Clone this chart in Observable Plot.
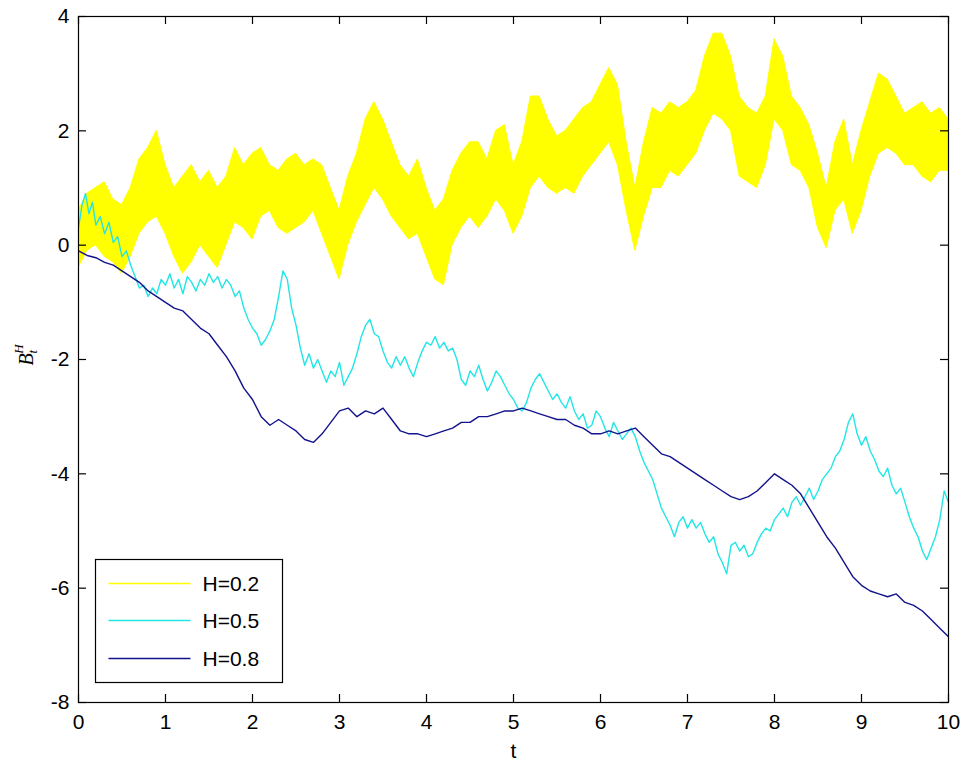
<!DOCTYPE html>
<html><head><meta charset="utf-8">
<script src="https://cdn.jsdelivr.net/npm/d3@7"></script>
<script src="https://cdn.jsdelivr.net/npm/@observablehq/plot@0.6"></script>
<style>body{margin:0;background:#fff}#chart{width:966px;height:769px}</style>
</head><body><div id="chart"></div>
<script>
const xTicks = [0,1,2,3,4,5,6,7,8,9,10];
const yTicks = [-8,-6,-4,-2,0,2,4];
const seriesNames = ["H=0.2","H=0.5","H=0.8"];
const seriesColors = ["#ffff00","#22e6e6","#12128c"];
const xLabel = "t";

// H=0.2 : dense band, upper and lower envelope read every 0.1
const yellowT = [0,0.1,0.2,0.3,0.4,0.5,0.6,0.7,0.8,0.9,1,1.1,1.2,1.3,1.4,1.5,1.6,1.7,1.8,1.9,2,2.1,2.2,2.3,2.4,2.5,2.6,2.7,2.8,2.9,3,3.1,3.2,3.3,3.4,3.5,3.6,3.7,3.8,3.9,4,4.1,4.2,4.3,4.4,4.5,4.6,4.7,4.8,4.9,5,5.1,5.2,5.3,5.4,5.5,5.6,5.7,5.8,5.9,6,6.1,6.2,6.3,6.4,6.5,6.6,6.7,6.8,6.9,7,7.1,7.2,7.3,7.4,7.5,7.6,7.7,7.8,7.9,8,8.1,8.2,8.3,8.4,8.5,8.6,8.7,8.8,8.9,9,9.1,9.2,9.3,9.4,9.5,9.6,9.7,9.8,9.9,10];
const yellowHi = [0.6,0.9,1.0,1.1,0.8,0.7,1.0,1.5,1.7,2.0,1.4,1.0,1.2,1.4,1.1,1.3,1.0,1.2,1.7,1.4,1.6,1.7,1.4,1.3,1.5,1.6,1.4,1.5,1.4,1.0,0.6,1.2,1.6,2.2,2.5,2.2,1.8,1.4,1.2,1.5,1.0,0.6,0.8,1.3,1.6,1.8,1.8,1.5,2.0,2.1,1.4,1.8,2.6,2.6,2.2,1.9,2.0,2.2,2.4,2.5,2.8,3.1,2.8,1.8,1.0,1.8,2.4,2.3,2.5,2.4,2.5,2.7,3.3,3.7,3.7,3.3,2.6,2.4,2.3,2.6,3.6,3.3,2.6,2.4,2.1,1.6,1.0,1.8,2.2,1.4,2.0,2.5,3.0,2.9,2.6,2.3,2.4,2.5,2.3,2.4,2.2];
const yellowLo = [-0.4,-0.1,0.0,-0.2,-0.3,-0.5,-0.2,0.2,0.4,0.5,0.2,-0.2,-0.5,-0.3,0.0,-0.2,-0.4,0.0,0.4,0.3,0.1,0.5,0.6,0.3,0.2,0.3,0.4,0.6,0.2,-0.2,-0.6,0.0,0.4,0.7,1.0,0.8,0.5,0.3,0.1,0.2,-0.2,-0.6,-0.7,0.0,0.3,0.5,0.3,0.5,0.8,0.6,0.2,0.5,1.0,1.2,1.0,0.9,1.0,0.9,1.2,1.4,1.6,1.8,1.4,0.6,-0.1,0.5,1.0,1.0,1.3,1.2,1.4,1.6,2.0,2.3,2.2,2.0,1.2,1.1,1.0,1.4,2.2,2.0,1.4,1.3,1.0,0.3,-0.05,0.6,0.8,0.2,0.6,1.2,1.6,1.7,1.6,1.4,1.4,1.2,1.1,1.3,1.3];

// H=0.5
const cyanT = [0,0.04,0.08,0.12,0.16,0.2,0.25,0.3,0.35,0.4,0.45,0.5,0.55,0.6,0.65,0.7,0.75,0.8,0.85,0.9,0.95,1,1.05,1.1,1.15,1.2,1.25,1.3,1.35,1.4,1.45,1.5,1.55,1.6,1.65,1.7,1.75,1.8,1.85,1.9,1.95,2,2.05,2.1,2.15,2.2,2.25,2.3,2.35,2.4,2.45,2.5,2.55,2.6,2.65,2.7,2.75,2.8,2.85,2.9,2.95,3,3.05,3.1,3.15,3.2,3.25,3.3,3.35,3.4,3.45,3.5,3.55,3.6,3.65,3.7,3.75,3.8,3.85,3.9,3.95,4,4.05,4.1,4.15,4.2,4.25,4.3,4.35,4.4,4.45,4.5,4.55,4.6,4.65,4.7,4.75,4.8,4.85,4.9,4.95,5,5.05,5.1,5.15,5.2,5.25,5.3,5.35,5.4,5.45,5.5,5.55,5.6,5.65,5.7,5.75,5.8,5.85,5.9,5.95,6,6.05,6.1,6.15,6.2,6.25,6.3,6.35,6.4,6.45,6.5,6.55,6.6,6.65,6.7,6.75,6.8,6.85,6.9,6.95,7,7.05,7.1,7.15,7.2,7.25,7.3,7.35,7.4,7.45,7.5,7.55,7.6,7.65,7.7,7.75,7.8,7.85,7.9,7.95,8,8.05,8.1,8.15,8.2,8.25,8.3,8.35,8.4,8.45,8.5,8.55,8.6,8.65,8.7,8.75,8.8,8.85,8.9,8.95,9,9.05,9.1,9.15,9.2,9.25,9.3,9.35,9.4,9.45,9.5,9.55,9.6,9.65,9.7,9.75,9.8,9.85,9.9,9.95,10];
const cyanV = [0.3,0.7,0.9,0.55,0.75,0.35,0.5,0.2,0.4,0.05,0.15,-0.2,-0.1,-0.35,-0.55,-0.75,-0.7,-0.9,-0.75,-0.85,-0.6,-0.7,-0.5,-0.75,-0.6,-0.85,-0.55,-0.65,-0.8,-0.6,-0.7,-0.5,-0.65,-0.55,-0.75,-0.6,-0.7,-0.9,-0.8,-1.1,-1.3,-1.45,-1.55,-1.75,-1.65,-1.5,-1.3,-0.9,-0.45,-0.6,-1.1,-1.4,-1.8,-2.1,-1.9,-2.15,-2.0,-2.2,-2.4,-2.2,-2.3,-2.05,-2.45,-2.3,-2.15,-1.9,-1.6,-1.4,-1.3,-1.55,-1.6,-1.85,-2.05,-2.15,-1.95,-2.1,-1.95,-2.15,-2.3,-2.05,-1.85,-1.7,-1.75,-1.6,-1.8,-1.7,-1.85,-1.8,-2.0,-2.35,-2.45,-2.2,-2.3,-2.1,-2.35,-2.55,-2.4,-2.2,-2.3,-2.45,-2.6,-2.7,-2.85,-2.9,-2.75,-2.5,-2.35,-2.25,-2.4,-2.55,-2.7,-2.6,-2.75,-2.85,-2.65,-2.9,-3.05,-2.95,-3.2,-3.15,-2.9,-3.0,-3.2,-3.35,-3.1,-3.25,-3.4,-3.3,-3.2,-3.35,-3.6,-3.8,-3.95,-4.1,-4.35,-4.6,-4.75,-4.9,-5.1,-4.85,-4.75,-4.95,-4.8,-4.95,-4.85,-5.05,-5.2,-5.1,-5.4,-5.55,-5.75,-5.25,-5.2,-5.35,-5.25,-5.45,-5.4,-5.2,-5.05,-4.95,-5.0,-4.8,-4.7,-4.6,-4.75,-4.5,-4.4,-4.55,-4.4,-4.25,-4.45,-4.3,-4.1,-4.0,-3.9,-3.7,-3.6,-3.4,-3.1,-2.95,-3.3,-3.5,-3.35,-3.6,-3.75,-3.95,-4.05,-3.9,-4.2,-4.35,-4.25,-4.5,-4.75,-4.95,-5.1,-5.35,-5.5,-5.3,-5.1,-4.8,-4.3,-4.5];

// H=0.8
const navyT = [0,0.1,0.2,0.3,0.4,0.5,0.6,0.7,0.8,0.9,1,1.1,1.2,1.3,1.4,1.5,1.6,1.7,1.8,1.9,2,2.1,2.2,2.3,2.4,2.5,2.6,2.7,2.8,2.9,3,3.1,3.2,3.3,3.4,3.5,3.6,3.7,3.8,3.9,4,4.1,4.2,4.3,4.4,4.5,4.6,4.7,4.8,4.9,5,5.1,5.2,5.3,5.4,5.5,5.6,5.7,5.8,5.9,6,6.1,6.2,6.3,6.4,6.5,6.6,6.7,6.8,6.9,7,7.1,7.2,7.3,7.4,7.5,7.6,7.7,7.8,7.9,8,8.1,8.2,8.3,8.4,8.5,8.6,8.7,8.8,8.9,9,9.1,9.2,9.3,9.4,9.5,9.6,9.7,9.8,9.9,10];
const navyV = [-0.1,-0.18,-0.22,-0.3,-0.35,-0.45,-0.55,-0.65,-0.8,-0.9,-1.0,-1.1,-1.15,-1.3,-1.45,-1.55,-1.75,-1.95,-2.2,-2.5,-2.7,-3.0,-3.15,-3.05,-3.15,-3.25,-3.4,-3.45,-3.3,-3.1,-2.9,-2.85,-3.0,-2.9,-2.95,-2.85,-3.05,-3.25,-3.3,-3.3,-3.35,-3.3,-3.25,-3.2,-3.1,-3.1,-3.0,-3.0,-2.95,-2.9,-2.9,-2.85,-2.9,-2.95,-3.0,-3.05,-3.05,-3.15,-3.2,-3.3,-3.3,-3.25,-3.3,-3.25,-3.2,-3.35,-3.5,-3.65,-3.7,-3.8,-3.9,-4.0,-4.1,-4.2,-4.3,-4.4,-4.45,-4.4,-4.3,-4.15,-4.0,-4.1,-4.2,-4.35,-4.6,-4.85,-5.1,-5.3,-5.55,-5.8,-5.95,-6.05,-6.1,-6.15,-6.1,-6.25,-6.3,-6.4,-6.55,-6.7,-6.85];

const yellow = yellowT.map((t,i) => ({t, hi: yellowHi[i], lo: yellowLo[i]}));
const cyan = cyanT.map((t,i) => ({t, v: cyanV[i]}));
const navy = navyT.map((t,i) => ({t, v: navyV[i]}));

const W = 966, H = 769, mL = 78, mR = 18, mT = 16, mB = 67;
const pw = W - mL - mR, ph = H - mT - mB, tk = 8;

const plot = Plot.plot({
  width: W, height: H,
  marginLeft: mL, marginRight: mR, marginTop: mT, marginBottom: mB,
  style: {fontFamily: "'Liberation Sans', Arial, sans-serif", fontSize: "21px", background: "white", color: "black"},
  x: {domain: [0, 10]},
  y: {domain: [-8, 4]},
  marks: [
    Plot.areaY(yellow, {x: "t", y1: "lo", y2: "hi", fill: seriesColors[0], stroke: seriesColors[0], strokeWidth: 1, clip: true}),
    Plot.line(cyan, {x: "t", y: "v", stroke: seriesColors[1], strokeWidth: 1.4, clip: true}),
    Plot.line(navy, {x: "t", y: "v", stroke: seriesColors[2], strokeWidth: 1.4, clip: true}),
    Plot.frame({stroke: "black", strokeWidth: 1.2}),
    Plot.ruleX(xTicks, {x: d => d, insetTop: ph - tk, stroke: "black", strokeWidth: 1.2}),
    Plot.ruleX(xTicks, {x: d => d, insetBottom: ph - tk, stroke: "black", strokeWidth: 1.2}),
    Plot.ruleY(yTicks, {y: d => d, insetRight: pw - tk, stroke: "black", strokeWidth: 1.2}),
    Plot.ruleY(yTicks, {y: d => d, insetLeft: pw - tk, stroke: "black", strokeWidth: 1.2}),
    Plot.axisX({ticks: xTicks, tickSize: 0, tickPadding: 12, fontSize: 21, label: null, tickFormat: d => String(d)}),
    Plot.axisY({ticks: yTicks, tickSize: 0, tickPadding: 9, fontSize: 21, label: null, tickFormat: d => String(d)}),
    Plot.text([xLabel], {text: d => d, frameAnchor: "bottom", dy: 55, fontSize: 21})
  ]
});

const svg = d3.select(plot);
// y label B_t^H
const yl = svg.append("text")
  .attr("transform", `translate(33,355) rotate(-90)`)
  .attr("text-anchor", "middle")
  .attr("font-family", "'Liberation Serif', 'Times New Roman', serif")
  .attr("font-style", "italic")
  .attr("font-size", 20)
  .attr("fill", "black");
yl.append("tspan").text("B");
yl.append("tspan").attr("font-size", 13).attr("dy", 4).text("t");
yl.append("tspan").attr("font-size", 13).attr("dx", -4).attr("dy", -14).text("H");

// legend
const lg = svg.append("g")
  .attr("font-family", "'Liberation Sans', Arial, sans-serif")
  .attr("font-size", 21)
  .attr("text-anchor", "start");
const lx = mL + 17.5, ly = mT + ph - 20 - 123 + 0.5;
lg.append("rect").attr("x", lx).attr("y", ly).attr("width", 187).attr("height", 123)
  .attr("fill", "white").attr("stroke", "black").attr("stroke-width", 1.2);
seriesNames.forEach((name, i) => {
  const cy = Math.round(ly + 23 + i * 37.5) + 0.5;
  lg.append("line").attr("x1", lx + 13).attr("x2", lx + 95).attr("y1", cy).attr("y2", cy)
    .attr("stroke", seriesColors[i]).attr("stroke-width", 1.5);
  lg.append("text").attr("x", lx + 107).attr("y", cy).attr("dy", "0.35em")
    .attr("text-anchor", "start").attr("fill", "black").text(name);
});

document.getElementById("chart").appendChild(plot);
</script>
</body></html>
